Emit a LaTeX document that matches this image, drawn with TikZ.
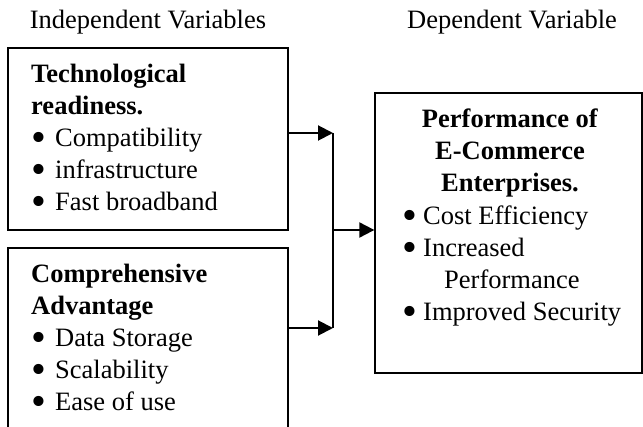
\documentclass[tikz,border=0pt]{standalone}
\usepackage{graphicx}
\usepackage{fontspec}
\setmainfont{Liberation Serif}
\usetikzlibrary{arrows.meta,positioning}
\newcommand{\itemdot}[1]{\makebox[#1][l]{\raisebox{-5pt}{\scalebox{1.6}{\textbullet}}}}

\begin{document}
\begin{tikzpicture}[x=1pt,y=-1pt,font=\fontsize{26.5}{32}\selectfont,>={Triangle[length=15pt,width=15pt]}]
\tikzset{box/.style={draw,line width=1.3pt,rectangle,inner sep=0pt},
  txt/.style={align=left,anchor=base west,inner sep=0pt},
  conn/.style={line width=2pt}}
\clip (0,0) rectangle (643,427);
\node[anchor=base] (iv) at (148,29) {Independent Variables};
\node[anchor=base] (dv) at (512,29) {Dependent Variable};
\node[box,minimum width=280pt,minimum height=182pt] (tech) at (148,139) {};
\node[box,minimum width=280pt,minimum height=200pt] (comp) at (148,348) {};
\node[box,minimum width=267pt,minimum height=280pt] (perf) at (508.5,233) {};
% text anchored at the baseline of the last line
\node[txt] (techtxt) at (31,211) {\textbf{Technological}\\\textbf{readiness.}\\
  \itemdot{24pt}Compatibility\\\itemdot{24pt}infrastructure\\\itemdot{24pt}Fast broadband};
\node[txt] (comptxt) at (31,411) {\textbf{Comprehensive}\\\textbf{Advantage}\\
  \itemdot{24pt}Data Storage\\\itemdot{24pt}Scalability\\\itemdot{24pt}Ease of use};
\node[align=center,anchor=base,inner sep=0pt] (perfhd) at (510,192)
  {\textbf{Performance of}\\\textbf{E-Commerce}\\\textbf{Enterprises.}};
\node[txt] (perftxt) at (402,321) {\itemdot{21pt}Cost Efficiency\\
  \itemdot{21pt}Increased\\\hspace*{42pt}Performance\\
  \itemdot{21pt}Improved Security};
% connectors
\coordinate (j1) at (333,133);
\coordinate (j2) at (333,328);
\coordinate (jm) at (333,230);
\draw[conn,->] (tech.east |- j1) -- (j1);
\draw[conn,->] (comp.east |- j2) -- (j2);
\draw[conn] (j1) -- (j2);
\draw[conn,->] (jm) -- (perf.west |- jm);
\end{tikzpicture}
\end{document}
